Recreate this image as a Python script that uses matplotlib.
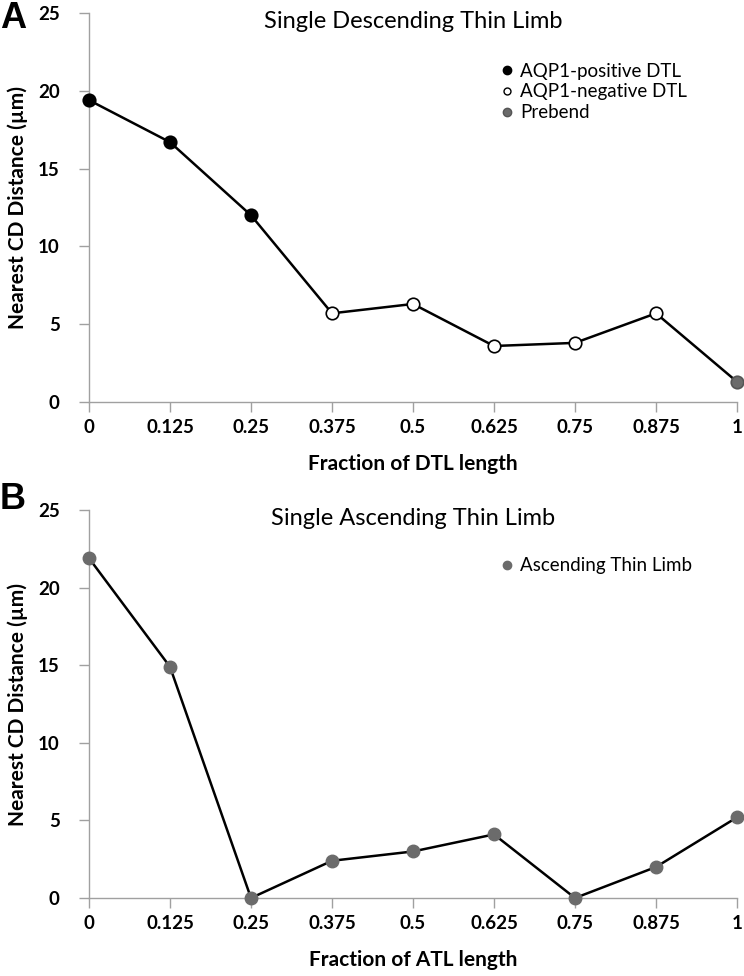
import matplotlib
matplotlib.use("Agg")
import matplotlib.pyplot as plt
from matplotlib.lines import Line2D

plt.rcParams['font.family'] = ['Lato', 'DejaVu Sans']

# Daten
frac = [0, 0.125, 0.25, 0.375, 0.5, 0.625, 0.75, 0.875, 1]
frac_labels = ['0', '0.125', '0.25', '0.375', '0.5', '0.625', '0.75', '0.875', '1']
dtl_dist = [19.4, 16.7, 12.0, 5.7, 6.3, 3.6, 3.8, 5.7, 1.3]
dtl_type = ['pos', 'pos', 'pos', 'neg', 'neg', 'neg', 'neg', 'neg', 'pre']
atl_dist = [21.9, 14.9, 0.0, 2.4, 3.0, 4.1, 0.0, 2.0, 5.2]

grey = '#6b6b6b'
axcol = '#a0a0a0'
styles = {
    'pos': dict(mfc='black', mec='black', label='AQP1-positive DTL'),
    'neg': dict(mfc='white', mec='black', label='AQP1-negative DTL'),
    'pre': dict(mfc=grey, mec='#555555', label='Prebend'),
}

fig = plt.figure(figsize=(7.44, 9.76), dpi=100)
axA = fig.add_axes([0.1196, 0.5881, 0.871, 0.3986])
axB = fig.add_axes([0.1196, 0.0799, 0.871, 0.3975])


def style_axis(ax, xlabel, title):
    ax.set_xlim(0, 1)
    ax.set_ylim(0, 25)
    ax.set_yticks([0, 5, 10, 15, 20, 25])
    ax.set_xticks(frac)
    ax.set_xticklabels(frac_labels)
    for s in ['top', 'right']:
        ax.spines[s].set_visible(False)
    for s in ['left', 'bottom']:
        ax.spines[s].set_color(axcol)
        ax.spines[s].set_linewidth(1.0)
    ax.tick_params(axis='both', colors=axcol, length=7, width=1.0, labelcolor='black',
                   labelsize=13.5)
    ax.tick_params(axis='x', pad=5)
    ax.tick_params(axis='y', pad=14)
    for t in ax.get_xticklabels() + ax.get_yticklabels():
        t.set_fontweight('bold')
    ax.set_xlabel(xlabel, fontsize=15, fontweight='bold', labelpad=13)
    ax.set_ylabel('Nearest CD Distance (µm)', fontsize=15, fontweight='bold', labelpad=7)
    ax.text(0.5, 0.977, title, transform=ax.transAxes, ha='center', va='center', fontsize=17)


# Panel A
axA.plot(frac, dtl_dist, color='black', lw=1.8, zorder=2, clip_on=False)
for x, y, t in zip(frac, dtl_dist, dtl_type):
    st = styles[t]
    axA.plot(x, y, 'o', ms=9, mfc=st['mfc'], mec=st['mec'], mew=1.2, zorder=3, clip_on=False)
style_axis(axA, 'Fraction of DTL length', 'Single Descending Thin Limb')
handles = [Line2D([], [], ls='none', marker='o', ms=6 if k != 'neg' else 5,
                  mfc=v['mfc'], mec=v['mec'], label=v['label']) for k, v in styles.items()]
axA.legend(handles=handles, loc='center left', bbox_to_anchor=(0.631, 0.797), frameon=False,
           fontsize=13.5, handletextpad=0.2, labelspacing=0.2, handlelength=1.0, borderpad=0,
           borderaxespad=0)

# Panel B
axB.plot(frac, atl_dist, color='black', lw=1.8, zorder=2, clip_on=False)
axB.plot(frac, atl_dist, 'o', ms=9, mfc=grey, mec=grey, zorder=3, clip_on=False)
style_axis(axB, 'Fraction of ATL length', 'Single Ascending Thin Limb')
hB = [Line2D([], [], ls='none', marker='o', ms=6, mfc=grey, mec=grey,
             label='Ascending Thin Limb')]
axB.legend(handles=hB, loc='center left', bbox_to_anchor=(0.631, 0.856), frameon=False,
           fontsize=13.5, handletextpad=0.2, handlelength=1.0, borderpad=0, borderaxespad=0)

fig.text(0.0, 0.999, 'A', fontsize=26, fontweight='bold', va='top', family='Liberation Sans')
fig.text(0.0, 0.488, 'B', fontsize=26, fontweight='bold', va='center', family='Liberation Sans')

fig.savefig('out.png', dpi=100)
